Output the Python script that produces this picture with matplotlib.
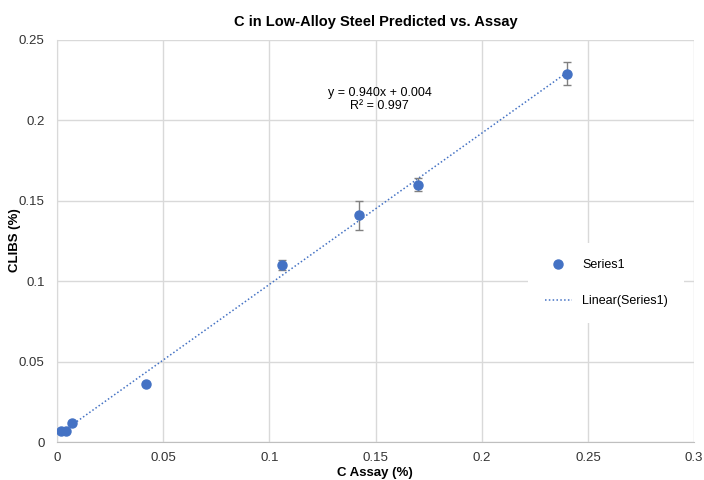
import matplotlib.pyplot as plt
import numpy as np

plt.rcParams["font.family"] = ["Liberation Sans", "DejaVu Sans"]

# measured points
assay = [0.002, 0.004, 0.007, 0.042, 0.106, 0.142, 0.170, 0.240]
clibs = [0.007, 0.007, 0.012, 0.036, 0.110, 0.141, 0.160, 0.229]
err = [0.0, 0.0, 0.0, 0.0, 0.003, 0.009, 0.004, 0.007]

slope = 0.940
intercept = 0.004

fig = plt.figure(figsize=(7.04, 4.8), dpi=100)
ax = fig.add_axes([0.081, 0.079, 0.905, 0.838])

blue = "#4472C4"

xs = np.linspace(min(assay), max(assay), 50)
ax.plot(xs, slope * xs + intercept, linestyle=(0, (1, 1.5)), color=blue,
        linewidth=1.1, label="Linear(Series1)", zorder=3)

ax.errorbar(assay, clibs, yerr=err, fmt="none", ecolor="#808080",
            elinewidth=1, capsize=3, capthick=1, zorder=3)
ax.plot(assay, clibs, "o", color=blue, markersize=6.5, label="Series1", zorder=4)

ax.set_xlim(0, 0.3)
ax.set_ylim(0, 0.25)
ax.set_xticks([0, 0.05, 0.1, 0.15, 0.2, 0.25, 0.3])
ax.set_xticklabels(["0", "0.05", "0.1", "0.15", "0.2", "0.25", "0.3"])
ax.set_yticks([0, 0.05, 0.1, 0.15, 0.2, 0.25])
ax.set_yticklabels(["0", "0.05", "0.1", "0.15", "0.2", "0.25"])
ax.tick_params(axis="y", length=0, labelsize=9.5, colors="#333333", pad=9)
ax.tick_params(axis="x", length=0, labelsize=9.5, colors="#333333", pad=7)

ax.grid(True, color="#d9d9d9", linewidth=1)
ax.set_axisbelow(True)
for side in ["top", "right"]:
    ax.spines[side].set_visible(False)
ax.spines["left"].set_color("#d9d9d9")
ax.spines["bottom"].set_color("#bfbfbf")

ax.set_title("C in Low-Alloy Steel Predicted vs. Assay", fontsize=10.5,
             fontweight="bold", pad=10)
fig.text(0.533, 0.003, "C Assay (%)", fontsize=9.5, fontweight="bold",
         ha="center", va="bottom")
fig.text(0.021, 0.5, "CLIBS (%)", fontsize=9.5, fontweight="bold",
         rotation=90, ha="center", va="center")

ax.text(0.152, 0.213, "y = 0.940x + 0.004\nR² = 0.997", fontsize=9,
        ha="center", va="center", linespacing=1.1)

handles, labels = ax.get_legend_handles_labels()
leg = ax.legend(handles[::-1], labels[::-1], loc="center left",
                bbox_to_anchor=(0.73, 0.395), frameon=True, facecolor="white",
                edgecolor="none", framealpha=1, fontsize=9, handlelength=2.2,
                labelspacing=1.9, borderpad=1.3)

fig.savefig("out.png", dpi=100)
